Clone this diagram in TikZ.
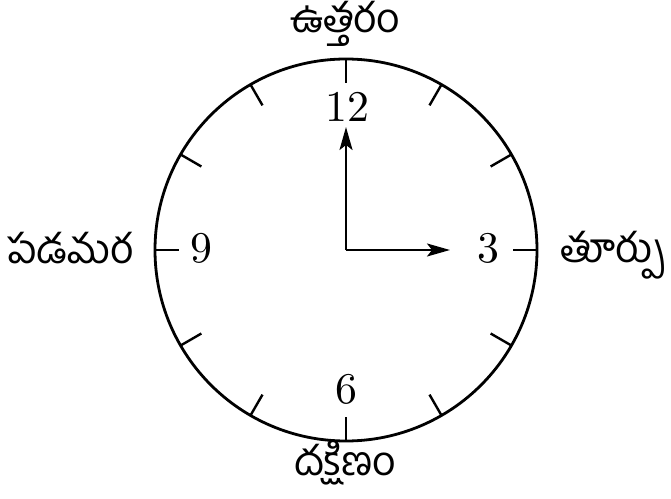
\documentclass[tikz,border=0pt]{standalone}
\usepackage{fontspec}
\newfontfamily\telugu[Script=Telugu]{Hind Guntur}
\newfontfamily\digits{lmroman10-regular}[Extension=.otf]
\usetikzlibrary{arrows.meta,calc}
\tikzset{
  rim/.style={line width=2.8bp},
  tick/.style={line width=2.4bp},
  hand/.style={line width=2.2bp, -{Stealth[length=23bp,width=13bp,inset=5bp]}},
  num/.style={inner sep=0pt, anchor=base, font=\digits\fontsize{44}{44}\selectfont},
  dir/.style={inner sep=0pt, anchor=base, font=\telugu\fontsize{41}{41}\selectfont}
}
\begin{document}
\begin{tikzpicture}[x=1bp,y=-1bp]
\useasboundingbox (0,0) rectangle (671,499);
\coordinate (c) at (346,250);
\draw[rim] (c) circle[radius=191bp];
\foreach \a in {0,30,...,330}{
  \draw[tick] ($(c)+(\a:191bp)$) -- ($(c)+(\a:167bp)$);
}
\node[num] (n12) at (347,122) {12};
\node[num] (n3) at (488,263) {3};
\node[num] (n6) at (346,403) {6};
\node[num] (n9) at (201,263) {9};
\coordinate (tipN) at (346,127);
\coordinate (tipE) at (450,250);
\draw[hand] (c) -- (tipN);
\draw[hand] (c) -- (tipE);
\node[dir] (north) at (345,33) {ఉత్తరం};
\node[dir] (west) at (70,264) {పడమర};
\node[dir] (east) at (613,263) {తూర్పు};
\node[dir] (south) at (345,475) {దక్షిణం};
\end{tikzpicture}
\end{document}
